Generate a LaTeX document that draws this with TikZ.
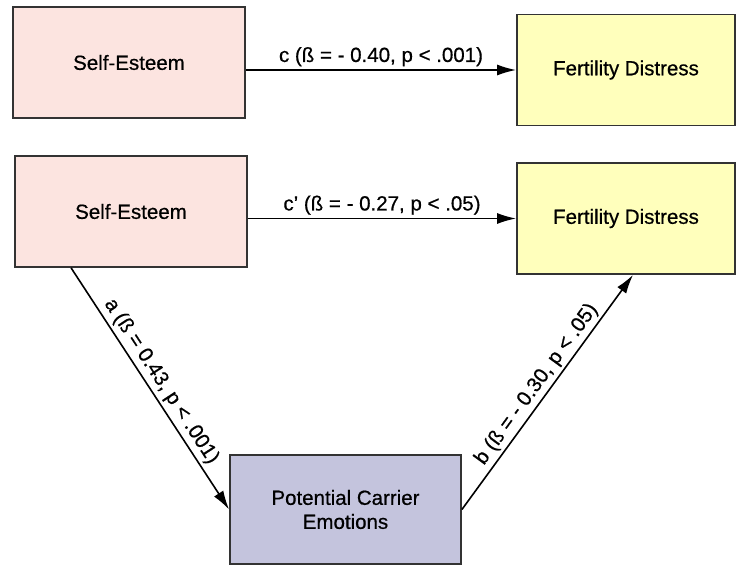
\documentclass[tikz,border=0pt]{standalone}
\usepackage{fontspec}
\setmainfont{Liberation Sans}[FakeBold=0.6]
\usetikzlibrary{arrows.meta}
\definecolor{pinkfill}{HTML}{FCE4E0}
\definecolor{yellowfill}{HTML}{FFFFBC}
\definecolor{purplefill}{HTML}{C4C4DD}
\definecolor{edgegray}{HTML}{333333}
\tikzset{
  box/.style={draw=edgegray, line width=1.8pt, inner sep=0pt, align=center,
    font=\fontsize{20.5}{24}\selectfont\addfontfeature{FakeBold=0.6}},
  pinkbox/.style={box, fill=pinkfill, minimum width=232pt, minimum height=111pt},
  yellowbox/.style={box, fill=yellowfill, minimum width=218pt, minimum height=111pt},
  purplebox/.style={box, fill=purplefill, minimum width=231pt, minimum height=109pt},
  arr/.style={draw=black, line width=1.6pt, -{Latex[length=19pt,width=11pt]}},
  lbl/.style={font=\fontsize{20.5}{24}\selectfont\addfontfeature{FakeBold=0.6}, inner sep=3pt}
}
\begin{document}
\begin{tikzpicture}[x=1pt,y=-1pt]
\useasboundingbox (0,0) rectangle (739,565);
\node[pinkbox] (b1) at (129,62.5) {Self-Esteem};
\node[yellowbox] (b2) at (626,70) {Fertility Distress};
\node[pinkbox] (b3) at (131,211.5) {Self-Esteem};
\node[yellowbox] (b4) at (626,218.5) {Fertility Distress};
\node[purplebox] (b5) at (345.5,509.5) {Potential Carrier\\Emotions};
\draw[arr] (b1.east |- b2.west) -- node[lbl, above] {c (ß = - 0.40, p < .001)} (b2.west);
\draw[arr] (b3.east |- b4.west) -- node[lbl, above] {c' (ß = - 0.27, p < .05)} (b4.west);
\draw[arr] ([xshift=57pt]b3.south west) -- node[lbl, sloped, above] {a (ß = 0.43, p < .001)} (b5.west);
\draw[arr] (b5.east) -- node[lbl, sloped, above] {b (ß = - 0.30, p < .05)} ([xshift=7pt]b4.south);
\end{tikzpicture}
\end{document}
